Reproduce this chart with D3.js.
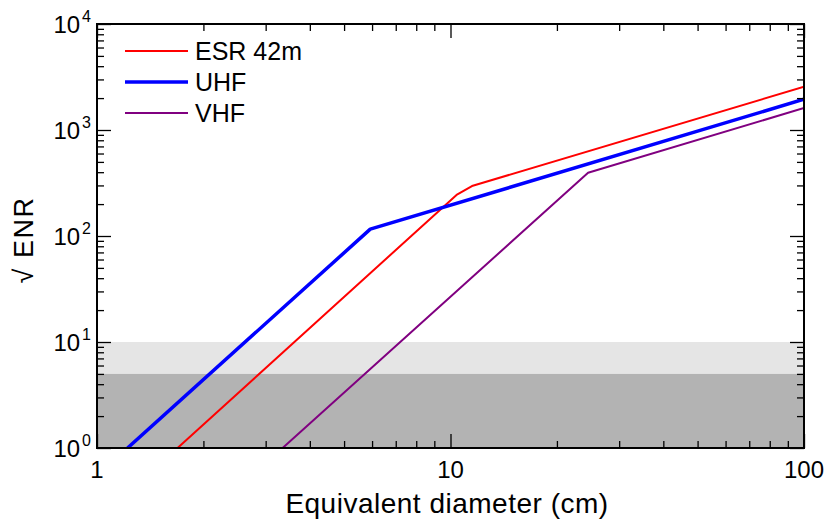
<!DOCTYPE html>
<html>
<head>
<meta charset="utf-8">
<script src="https://cdn.jsdelivr.net/npm/d3@7"></script>
<style>
  body { margin: 0; background: #fff; }
  svg { font-family: "Liberation Sans", Arial, sans-serif; }
</style>
</head>
<body>
<div id="chart"></div>
<script>
// series (x: cm, y: sqrt ENR)
const esrX = [1.69, 10.4, 11.5, 100];
const esrY = [1, 244, 296, 2560];
const uhfX = [1.22, 5.93, 100];
const uhfY = [1, 116, 1950];
const vhfX = [3.35, 24.5, 100];
const vhfY = [1, 395, 1610];

const seriesNames = ["ESR 42m", "UHF", "VHF"];
const seriesColors = ["#ff0000", "#0000ff", "#800080"];
const seriesWidths = [2, 3.5, 2];

// detection bands
const bandLow = [5, 1];
const bandHigh = [10, 5];
const bandColors = ["#e5e5e5", "#b3b3b3"];

const xMajor = [1, 10, 100];
const yExp = [0, 1, 2, 3, 4];

const W = 827, H = 521;
const margin = {top: 24, right: 23, bottom: 73, left: 97};
const width = W - margin.left - margin.right;
const height = H - margin.top - margin.bottom;

const x = d3.scaleLog().domain([1, 100]).range([0, width]);
const y = d3.scaleLog().domain([1, 1e4]).range([height, 0]);

const svg = d3.select("#chart").append("svg")
  .attr("width", W).attr("height", H);
const g = svg.append("g")
  .attr("transform", `translate(${margin.left},${margin.top})`);

// shaded bands
g.selectAll("rect.band")
  .data(bandLow.map((lo, i) => ({lo, hi: bandHigh[i], c: bandColors[i]})))
  .enter().append("rect")
  .attr("class", "band")
  .attr("x", 0)
  .attr("width", width)
  .attr("y", d => y(d.hi))
  .attr("height", d => y(d.lo) - y(d.hi))
  .attr("fill", d => d.c);

// lines
const line = d3.line().x(d => x(d[0])).y(d => y(d[1]));
const series = [
  d3.zip(esrX, esrY),
  d3.zip(uhfX, uhfY),
  d3.zip(vhfX, vhfY)
];
g.append("defs").append("clipPath").attr("id", "clip")
  .append("rect").attr("width", width).attr("height", height);
g.selectAll("path.series")
  .data(series)
  .enter().append("path")
  .attr("class", "series")
  .attr("clip-path", "url(#clip)")
  .attr("d", line)
  .attr("fill", "none")
  .attr("stroke", (d, i) => seriesColors[i])
  .attr("stroke-width", (d, i) => seriesWidths[i])
  .attr("stroke-linejoin", "round");

// ticks (inward, on all four sides)
const xTicks = x.ticks();
const yTicks = y.ticks();
const isMajor = v => Math.abs(Math.log10(v) - Math.round(Math.log10(v))) < 1e-9;

function styleTicks(sel) {
  sel.select(".domain").remove();
  sel.selectAll(".tick line").attr("stroke", "#000").attr("stroke-width", 1.3);
  sel.selectAll(".tick text").remove();
}

const axes = [
  [d3.axisBottom(x).tickValues(xTicks), `translate(0,${height})`, "y2", -1],
  [d3.axisTop(x).tickValues(xTicks), "translate(0,0)", "y2", 1],
  [d3.axisLeft(y).tickValues(yTicks), "translate(0,0)", "x2", 1],
  [d3.axisRight(y).tickValues(yTicks), `translate(${width},0)`, "x2", -1]
];
axes.forEach(([ax, tr, attr, sign]) => {
  const a = g.append("g").attr("transform", tr).call(ax.tickFormat(""));
  styleTicks(a);
  a.selectAll(".tick line").attr(attr, d => sign * (isMajor(d) ? 14 : 7));
});

// frame
g.append("rect")
  .attr("width", width).attr("height", height)
  .attr("fill", "none").attr("stroke", "#000").attr("stroke-width", 2);

// x tick labels
g.selectAll("text.xl")
  .data(xMajor)
  .enter().append("text")
  .attr("class", "xl")
  .attr("x", d => x(d))
  .attr("y", height + 30)
  .attr("text-anchor", "middle")
  .attr("font-size", 24)
  .text(d => d);

// y tick labels with superscripts
const yl = g.selectAll("text.yl")
  .data(yExp)
  .enter().append("text")
  .attr("class", "yl")
  .attr("x", -6)
  .attr("y", d => y(Math.pow(10, d)) + 9)
  .attr("text-anchor", "end")
  .attr("font-size", 24);
yl.append("tspan").text("10");
yl.append("tspan").attr("font-size", 16).attr("dx", 2).attr("dy", -11).text(d => d);

// axis titles
svg.append("text")
  .attr("x", 447)
  .attr("y", 513)
  .attr("text-anchor", "middle")
  .attr("font-size", 28)
  .attr("letter-spacing", 0.5)
  .text("Equivalent diameter (cm)");

svg.append("text")
  .attr("transform", `translate(33,240) rotate(-90)`)
  .attr("text-anchor", "middle")
  .attr("font-size", 27)
  .attr("letter-spacing", 1.5)
  .text("\u221A ENR");

// legend
const leg = svg.append("g");
seriesNames.forEach((name, i) => {
  const ly = 51 + i * 31;
  leg.append("line")
    .attr("x1", 125).attr("x2", 188)
    .attr("y1", ly).attr("y2", ly)
    .attr("stroke", seriesColors[i])
    .attr("stroke-width", seriesWidths[i]);
  leg.append("text")
    .attr("x", 195).attr("y", ly + 9)
    .attr("font-size", 25)
    .text(name);
});
</script>
</body>
</html>
